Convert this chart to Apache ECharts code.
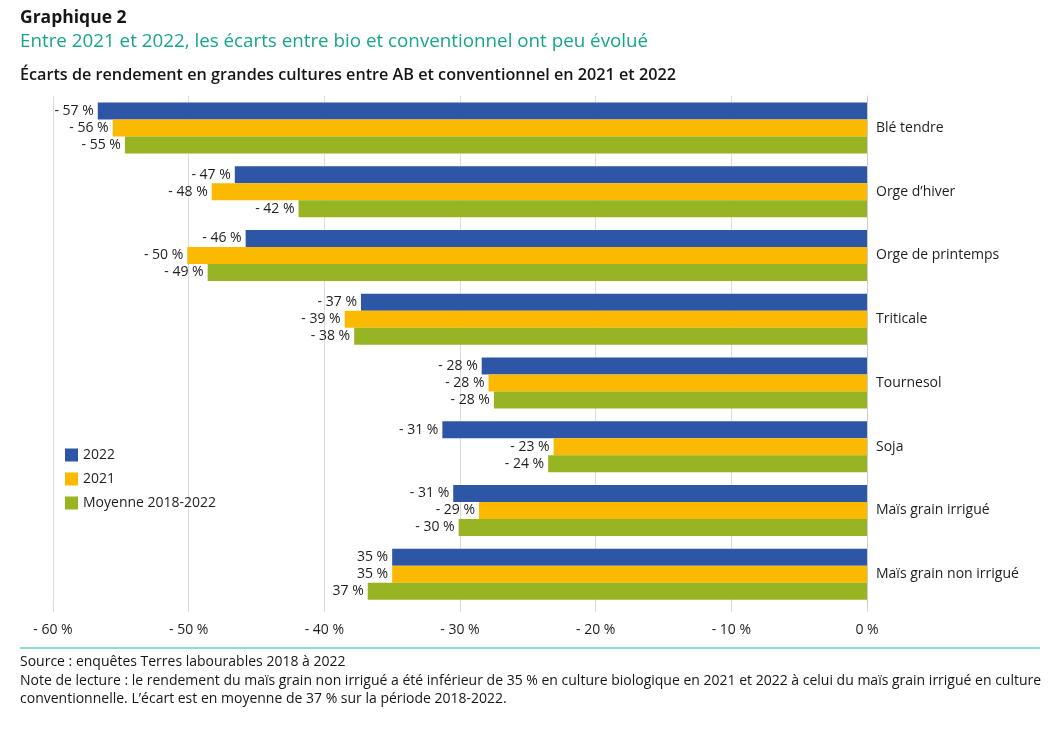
<!DOCTYPE html>
<html>
<head>
<meta charset="utf-8">
<script src="https://cdn.jsdelivr.net/npm/echarts@6/dist/echarts.min.js"></script>
<style>
	html, body { margin: 0; padding: 0; background: #fff; }
	#chart { width: 1059px; height: 732px; }
</style>
</head>
<body>
<div id="chart"></div>
<script>
	// cultures (de haut en bas)
	const cultures = ['Blé tendre', 'Orge d\u2019hiver', 'Orge de printemps', 'Triticale', 'Tournesol', 'Soja', 'Maïs grain irrigué', 'Maïs grain non irrigué'];
	// écarts de rendement (%)
	const val2022 = [-56.7, -46.6, -45.8, -37.3, -28.4, -31.3, -30.5, -35.0];
	const val2021 = [-55.6, -48.3, -50.1, -38.5, -27.9, -23.1, -28.6, -35.0];
	const valMoy = [-54.7, -41.9, -48.6, -37.8, -27.5, -23.5, -30.1, -36.8];
	// étiquettes telles qu'affichées
	const lab2022 = ['- 57 %', '- 47 %', '- 46 %', '- 37 %', '- 28 %', '- 31 %', '- 31 %', '35 %'];
	const lab2021 = ['- 56 %', '- 48 %', '- 50 %', '- 39 %', '- 28 %', '- 23 %', '- 29 %', '35 %'];
	const labMoy = ['- 55 %', '- 42 %', '- 49 %', '- 38 %', '- 28 %', '- 24 %', '- 30 %', '37 %'];
	const xTicks = [-60, -50, -40, -30, -20, -10, 0];

	const font = '"Open Sans", Lato, sans-serif';
	const chart = echarts.init(document.getElementById('chart'));

	function serie(name, color, data, labels) {
		return {
			name: name,
			type: 'bar',
			data: data,
			barGap: '0%',
			barCategoryGap: '20%',
			itemStyle: { color: color },
			label: {
				show: true,
				position: 'left',
				distance: 4,
				fontFamily: font,
				fontSize: 14,
				color: '#1e1e1e',
				formatter: p => labels[p.dataIndex]
			}
		};
	}

	chart.setOption({
		animation: false,
		textStyle: { fontFamily: font },
		title: [{
			text: 'Graphique 2',
			left: 15, top: 4,
			textStyle: { fontFamily: font, fontSize: 17.5, fontWeight: 'bold', color: '#161616' }
		}, {
			text: 'Entre 2021 et 2022, les écarts entre bio et conventionnel ont peu évolué',
			left: 15, top: 27,
			textStyle: { fontFamily: font, fontSize: 18.8, fontWeight: 'normal', color: '#18a58a' }
		}, {
			text: 'Écarts de rendement en grandes cultures entre AB et conventionnel en 2021 et 2022',
			left: 15, top: 62,
			textStyle: { fontFamily: font, fontSize: 16.2, fontWeight: 600, color: '#161616' }
		}, {
			text: 'Source : enquêtes Terres labourables 2018 à 2022\nNote de lecture : le rendement du maïs grain non irrigué a été inférieur de 35 % en culture biologique en 2021 et 2022 à celui du maïs grain irrigué en culture\nconventionnelle. L\u2019écart est en moyenne de 37 % sur la période 2018-2022.',
			left: 15, top: 648,
			textStyle: { fontFamily: font, fontSize: 14, fontWeight: 'normal', color: '#161616', lineHeight: 18.5 }
		}],
		graphic: [{
			type: 'line',
			shape: { x1: 20, y1: 648, x2: 1040, y2: 648 },
			style: { stroke: '#6fcdb8', lineWidth: 1.5 }
		}],
		legend: {
			orient: 'vertical',
			left: 60, top: 443,
			itemWidth: 13, itemHeight: 13, itemGap: 10,
			icon: 'rect',
			textStyle: { fontFamily: font, fontSize: 14, color: '#1e1e1e' },
			data: ['2022', '2021', 'Moyenne 2018-2022']
		},
		grid: { left: 53, right: 192, top: 96, bottom: 126 },
		xAxis: {
			type: 'value',
			min: xTicks[0], max: xTicks[xTicks.length - 1], interval: 10,
			axisLine: { show: false },
			axisTick: { show: true, length: 6, lineStyle: { color: '#d9d9d9' } },
			splitLine: { show: true, lineStyle: { color: '#dcdcdc', width: 1 } },
			axisLabel: {
				margin: 17,
				fontFamily: font, fontSize: 14, color: '#1e1e1e',
				formatter: v => v === 0 ? '0 %' : '- ' + Math.abs(v) + ' %'
			}
		},
		yAxis: {
			type: 'category',
			data: cultures,
			inverse: true,
			position: 'right',
			axisLine: { show: true, lineStyle: { color: '#cccccc' } },
			axisTick: { show: false },
			axisLabel: { margin: 9, fontFamily: font, fontSize: 14, color: '#1e1e1e' }
		},
		series: [
			serie('2022', '#2e56a6', val2022, lab2022),
			serie('2021', '#fbb900', val2021, lab2021),
			serie('Moyenne 2018-2022', '#97b422', valMoy, labMoy)
		]
	});
</script>
</body>
</html>
